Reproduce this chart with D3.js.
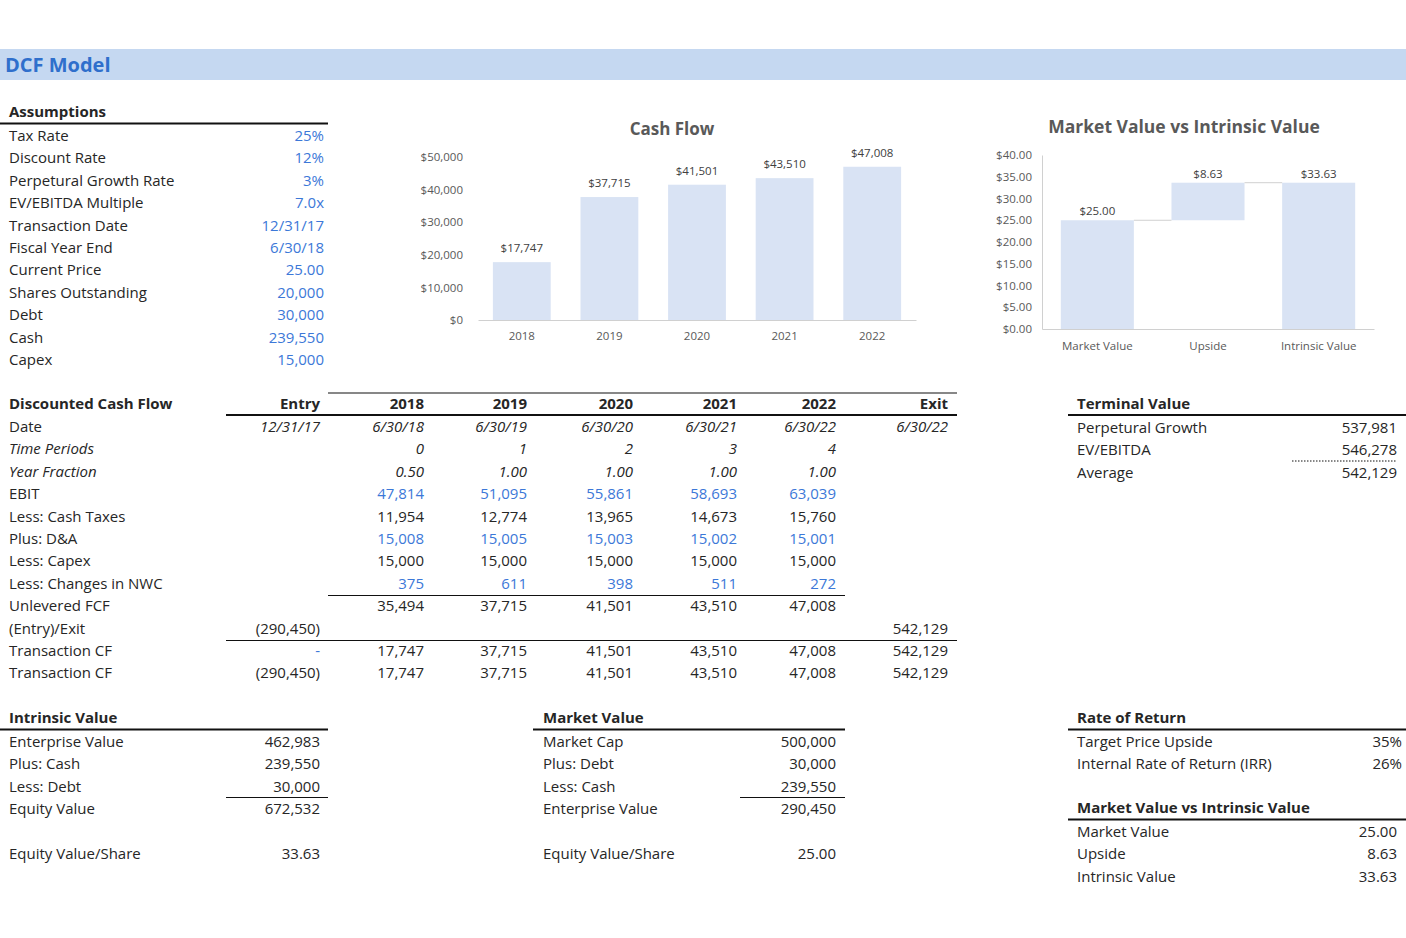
<!DOCTYPE html>
<html><head><meta charset="utf-8">
<script src="https://cdn.jsdelivr.net/npm/d3@7"></script>
<style>
body{margin:0;background:#fff;}
text{font-family:"Open Sans",sans-serif;}
</style></head>
<body><div id="abc"></div>
<script>
// data
var cfYears = ["2018", "2019", "2020", "2021", "2022"];
var cfValues = [17747, 37715, 41501, 43510, 47008];
var cfTicks = [0, 10000, 20000, 30000, 40000, 50000];
var mvCats = ["Market Value", "Upside", "Intrinsic Value"];
var mvBase = [0, 25, 0];
var mvValues = [25, 8.63, 33.63];
var mvTicks = [0, 5, 10, 15, 20, 25, 30, 35, 40];

var assumpLabels = ["Tax Rate", "Discount Rate", "Perpetural Growth Rate", "EV/EBITDA Multiple", "Transaction Date", "Fiscal Year End", "Current Price", "Shares Outstanding", "Debt", "Cash", "Capex"];
var assumpValues = ["25%", "12%", "3%", "7.0x", "12/31/17", "6/30/18", "25.00", "20,000", "30,000", "239,550", "15,000"];

var dcfCols = ["Entry", "2018", "2019", "2020", "2021", "2022", "Exit"];
var dcfRows = [
  ["Date", ["12/31/17", "6/30/18", "6/30/19", "6/30/20", "6/30/21", "6/30/22", "6/30/22"], "i"],
  ["Time Periods", ["", "0", "1", "2", "3", "4", ""], "ii"],
  ["Year Fraction", ["", "0.50", "1.00", "1.00", "1.00", "1.00", ""], "ii"],
  ["EBIT", ["", "47,814", "51,095", "55,861", "58,693", "63,039", ""], "b"],
  ["Less: Cash Taxes", ["", "11,954", "12,774", "13,965", "14,673", "15,760", ""], ""],
  ["Plus: D&A", ["", "15,008", "15,005", "15,003", "15,002", "15,001", ""], "b"],
  ["Less: Capex", ["", "15,000", "15,000", "15,000", "15,000", "15,000", ""], ""],
  ["Less: Changes in NWC", ["", "375", "611", "398", "511", "272", ""], "b"],
  ["Unlevered FCF", ["", "35,494", "37,715", "41,501", "43,510", "47,008", ""], ""],
  ["(Entry)/Exit", ["(290,450)", "", "", "", "", "", "542,129"], ""],
  ["Transaction CF", ["-", "17,747", "37,715", "41,501", "43,510", "47,008", "542,129"], ""],
  ["Transaction CF", ["(290,450)", "17,747", "37,715", "41,501", "43,510", "47,008", "542,129"], ""]
];
var tvLabels = ["Perpetural Growth", "EV/EBITDA", "Average"];
var tvValues = ["537,981", "546,278", "542,129"];
var ivLabels = ["Enterprise Value", "Plus: Cash", "Less: Debt", "Equity Value", "", "Equity Value/Share"];
var ivValues = ["462,983", "239,550", "30,000", "672,532", "", "33.63"];
var mkLabels = ["Market Cap", "Plus: Debt", "Less: Cash", "Enterprise Value", "", "Equity Value/Share"];
var mkValues = ["500,000", "30,000", "239,550", "290,450", "", "25.00"];
var rrLabels = ["Target Price Upside", "Internal Rate of Return (IRR)"];
var rrValues = ["35%", "26%"];
var mviLabels = ["Market Value", "Upside", "Intrinsic Value"];
var mviValues = ["25.00", "8.63", "33.63"];

var width = 1406, height = 938;
var blue = "#3c78d8", ink = "#262626", rowH = 22.4;
var svg = d3.select("#abc").append("svg").attr("width", width).attr("height", height);

// header band
svg.append("rect").attr("x", 0).attr("y", 49).attr("width", width).attr("height", 31).attr("fill", "#c5d8f1");
svg.append("text").attr("x", 5).attr("y", 72).attr("font-size", 20).attr("font-weight", "bold").attr("fill", "#2f6fcc").text("DCF Model");

function line(x1, x2, y, w, dash) {
  svg.append("line").attr("x1", x1).attr("x2", x2).attr("y1", y).attr("y2", y)
    .attr("stroke", "#111").attr("stroke-width", w).attr("stroke-dasharray", dash || null);
}
function txt(x, y, s, opt) {
  opt = opt || {};
  svg.append("text").attr("x", x).attr("y", y).attr("font-size", opt.size || 15)
    .attr("text-anchor", opt.anchor || "start").attr("font-weight", opt.bold ? "bold" : null)
    .attr("font-style", opt.italic ? "italic" : null).attr("fill", opt.fill || ink).text(s);
}
function block(x, xr, y0, title, labels, values, valueOpt) {
  txt(x, y0, title, {bold: true});
  labels.forEach(function(l, i) {
    var y = y0 + 24 + i * rowH;
    txt(x, y, l);
    txt(xr, y, values[i], Object.assign({anchor: "end"}, valueOpt || {}));
  });
}

// Assumptions
block(9, 324, 117, "Assumptions", assumpLabels, assumpValues, {fill: blue});
line(0, 328, 123.5, 2);

// DCF table
var colRight = [320, 424, 527, 633, 737, 836, 948];
txt(9, 409, "Discounted Cash Flow", {bold: true});
dcfCols.forEach(function(c, j) { txt(colRight[j], 409, c, {bold: true, anchor: "end"}); });
line(328, 957, 393, 1.2);
line(226, 957, 415, 2);
dcfRows.forEach(function(r, i) {
  var y = 432 + i * rowH;
  var it = r[2] === "i" || r[2] === "ii";
  txt(9, y, r[0], {italic: r[2] === "ii"});
  r[1].forEach(function(v, j) {
    var f = ink;
    if (r[2] === "b" || (v === "-")) f = blue;
    txt(colRight[j], y, v, {anchor: "end", italic: it, fill: f});
  });
});
line(328, 845, 595.5, 1.2);
line(226, 957, 640.5, 1.2);

// Terminal value
block(1077, 1397, 409, "Terminal Value", tvLabels, tvValues);
line(1068, 1406, 415, 2);
line(1292, 1397, 461, 1, "1.5,1.5");

// Intrinsic / Market value
block(9, 320, 723, "Intrinsic Value", ivLabels, ivValues);
line(0, 328, 729.5, 2);
line(226, 328, 797.5, 1.2);
block(543, 836, 723, "Market Value", mkLabels, mkValues);
line(533, 845, 729.5, 2);
line(740, 845, 797.5, 1.2);

// Rate of return
block(1077, 1402, 723, "Rate of Return", rrLabels, rrValues);
line(1068, 1406, 729.5, 2);
block(1077, 1397, 813, "Market Value vs Intrinsic Value", mviLabels, mviValues);
line(1068, 1406, 819.5, 2);

// Cash Flow chart
var barFill = "#d9e3f4", axisC = "#d0d0d0", tickC = "#595959";
var cx = d3.scaleBand().domain(cfYears).range([478, 916]).paddingInner(0.34).paddingOuter(0.17);
var cy = d3.scaleLinear().domain([0, 50000]).range([320, 157]);
svg.append("text").attr("x", 672).attr("y", 135).attr("text-anchor", "middle").attr("font-size", 17)
  .attr("font-weight", "bold").attr("fill", "#595959").text("Cash Flow");
var cg = svg.append("g");
cg.selectAll("rect").data(cfValues).enter().append("rect")
  .attr("x", function(d, i) { return cx(cfYears[i]); }).attr("width", cx.bandwidth())
  .attr("y", function(d) { return cy(d); }).attr("height", function(d) { return cy(0) - cy(d); })
  .attr("fill", barFill);
cg.selectAll("text.lab").data(cfValues).enter().append("text").attr("class", "lab")
  .attr("x", function(d, i) { return cx(cfYears[i]) + cx.bandwidth() / 2; })
  .attr("y", function(d) { return cy(d) - 10; }).attr("text-anchor", "middle")
  .attr("font-size", 11.5).attr("fill", "#404040").text(function(d) { return "$" + d3.format(",")(d); });
var cxAxis = svg.append("g").attr("transform", "translate(0,320)").call(d3.axisBottom(cx).tickSize(0).tickPadding(12));
var cyAxis = svg.append("g").attr("transform", "translate(466,0)")
  .call(d3.axisLeft(cy).tickValues(cfTicks).tickSize(0).tickFormat(function(d) { return "$" + d3.format(",")(d); }));
cyAxis.select(".domain").remove();
[cxAxis, cyAxis].forEach(function(a) {
  a.selectAll("text").attr("font-size", 11.5).attr("fill", tickC).attr("font-family", "Open Sans");
  a.select(".domain").attr("stroke", axisC);
});

// Market Value vs Intrinsic Value chart
var mx = d3.scaleBand().domain(mvCats).range([1042, 1374]).paddingInner(0.34).paddingOuter(0.17);
var my = d3.scaleLinear().domain([0, 40]).range([329, 155]);
svg.append("text").attr("x", 1184).attr("y", 133).attr("text-anchor", "middle").attr("font-size", 17.5)
  .attr("font-weight", "bold").attr("fill", "#595959").text("Market Value vs Intrinsic Value");
var mg = svg.append("g");
mg.selectAll("rect").data(mvValues).enter().append("rect")
  .attr("x", function(d, i) { return mx(mvCats[i]); }).attr("width", mx.bandwidth())
  .attr("y", function(d, i) { return my(mvBase[i] + d); })
  .attr("height", function(d, i) { return my(mvBase[i]) - my(mvBase[i] + d); })
  .attr("fill", barFill);
mvValues.forEach(function(d, i) {
  if (i < mvValues.length - 1) {
    var top = mvBase[i] + d;
    svg.append("line").attr("x1", mx(mvCats[i]) + mx.bandwidth()).attr("x2", mx(mvCats[i + 1]))
      .attr("y1", my(top)).attr("y2", my(top)).attr("stroke", "#d0d0d0");
  }
});
mg.selectAll("text.lab").data(mvValues).enter().append("text").attr("class", "lab")
  .attr("x", function(d, i) { return mx(mvCats[i]) + mx.bandwidth() / 2; })
  .attr("y", function(d, i) { return my(mvBase[i] + d) - 5; }).attr("text-anchor", "middle")
  .attr("font-size", 11.5).attr("fill", "#404040").text(function(d) { return "$" + d3.format(".2f")(d); });
var mxAxis = svg.append("g").attr("transform", "translate(0,329)").call(d3.axisBottom(mx).tickSize(0).tickPadding(13));
var myAxis = svg.append("g").attr("transform", "translate(1042,0)")
  .call(d3.axisLeft(my).tickValues(mvTicks).tickSize(0).tickPadding(10).tickFormat(function(d) { return "$" + d3.format(".2f")(d); }));
[mxAxis, myAxis].forEach(function(a) {
  a.selectAll("text").attr("font-size", 11.5).attr("fill", tickC).attr("font-family", "Open Sans");
  a.select(".domain").attr("stroke", axisC);
});
</script>
</body></html>
